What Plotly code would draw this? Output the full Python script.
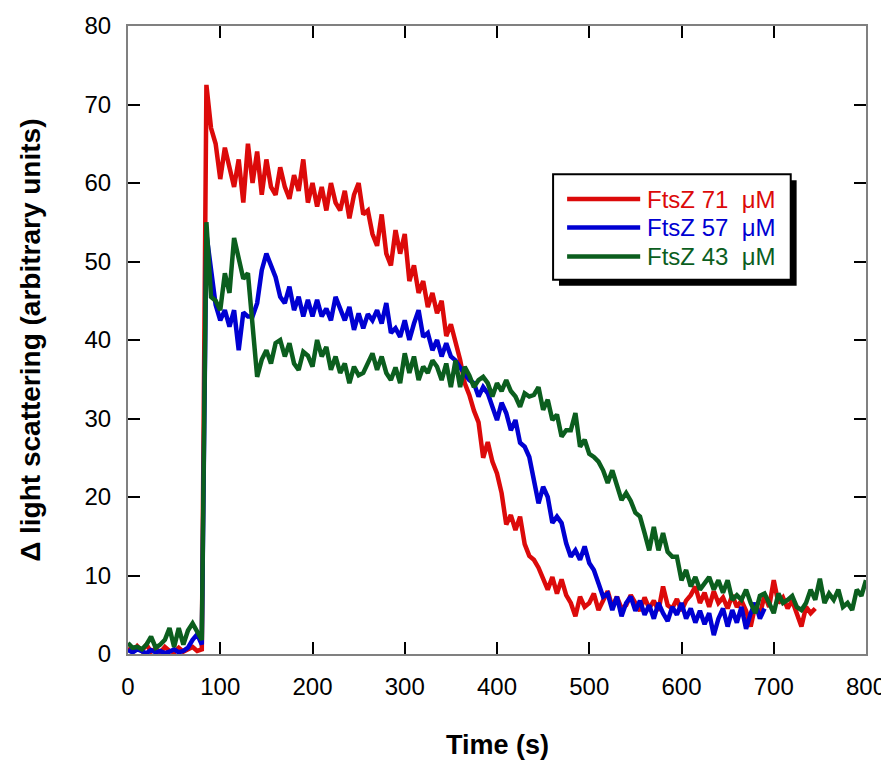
import plotly.graph_objects as go

# light scattering traces, one reading every 5 s starting at t = 0
STEP_S = 5

ftsz71 = [
    0.8, 0.3, 1.0, 0.4, 1.2, 0.3, 0.7, 0.2, 0.9, 0.4, 0.2, 0.8, 0.3, 0.6, 0.9, 0.4, 0.6,
    72.5, 67.0, 65.0, 60.5, 64.5, 62.0, 59.5, 63.0, 57.5, 65.0, 60.0, 64.0, 58.5, 63.0,
    59.5, 58.5, 62.0, 59.5, 58.0, 61.0, 59.0, 63.0, 57.5, 60.0, 57.0, 59.5, 56.5, 60.0,
    57.5, 56.5, 59.0, 55.5, 58.5, 60.0, 56.0, 56.5, 53.5, 52.0, 56.0, 51.0, 49.5, 54.0,
    51.0, 53.5, 47.5, 49.5, 46.0, 47.5, 44.2, 46.0, 43.4, 45.0, 40.5, 42.0, 40.0, 37.5,
    34.5, 33.0, 31.0, 29.5, 25.0, 27.0, 24.5, 23.0, 20.5, 16.5, 17.7, 15.8, 17.5, 14.0,
    12.5, 12.0, 11.0, 9.5, 8.2, 9.8, 7.7, 9.5, 7.5, 6.5, 4.8, 7.3, 6.0, 6.5, 7.7, 5.6,
    6.8, 8.0, 6.0, 7.3, 5.8, 6.2, 7.5, 6.5, 5.5, 7.2, 5.8, 6.8, 5.5, 8.6, 6.2, 5.8, 7.0,
    5.5, 6.8, 7.5, 8.6, 6.5, 7.8, 6.0, 8.0, 6.5, 7.2, 5.8, 7.5, 6.0, 6.8, 5.5, 3.5, 6.2,
    5.0, 7.5, 6.0, 9.4, 6.5, 7.2, 5.8, 6.8, 5.2, 3.5, 6.0, 5.2, 5.8,
]

ftsz57 = [
    0.5, 0.2, 0.6, 0.3, 0.1, 0.5, 0.2, 0.4, 0.1, 0.3, 0.6, 0.2, 0.4, 0.8, 1.8, 2.5, 1.2,
    53.5, 49.0, 44.5, 42.5, 43.8, 41.7, 43.8, 38.7, 43.5, 43.0, 43.0, 44.7, 48.9, 51.0,
    49.3, 48.0, 45.5, 44.7, 46.8, 43.8, 45.5, 43.0, 45.1, 43.0, 45.1, 43.0, 44.0, 42.5,
    45.5, 43.8, 42.5, 44.2, 41.3, 43.4, 41.5, 43.3, 42.5, 43.8, 42.1, 44.7, 40.9, 41.5,
    40.4, 42.5, 40.0, 42.1, 43.8, 40.4, 40.9, 38.7, 40.0, 37.9, 39.6, 37.9, 37.4, 36.5,
    35.8, 34.9, 34.5, 32.8, 34.0, 33.2, 31.5, 29.8, 32.0, 30.7, 28.5, 29.8, 26.9, 26.4,
    25.1, 22.4, 19.2, 21.3, 20.0, 16.7, 17.5, 16.7, 14.1, 12.4, 13.2, 12.0, 13.7, 11.6,
    10.7, 9.0, 7.3, 7.7, 5.6, 7.3, 4.8, 6.5, 7.3, 5.5, 6.8, 5.0, 6.2, 4.5, 6.5, 5.2, 4.2,
    6.0, 5.0, 6.5, 4.5, 5.8, 4.0, 5.5, 3.8, 5.2, 2.4, 4.5, 5.8, 3.5, 5.6, 4.0, 6.0, 3.2,
    5.2, 6.5, 4.5, 5.8,
]

ftsz43 = [
    1.4, 0.8, 0.9, 0.6, 1.2, 2.2, 0.8, 1.2, 1.8, 3.3, 0.9, 3.3, 1.2, 3.0, 3.9, 2.8, 1.8,
    55.0, 45.5, 45.0, 43.8, 48.5, 46.0, 53.0, 50.5, 47.8, 48.5, 42.0, 35.3, 37.5, 38.7,
    37.0, 39.6, 40.0, 37.9, 39.6, 37.0, 36.2, 38.5, 38.0, 36.6, 40.0, 37.9, 39.1, 36.2,
    37.9, 35.8, 37.0, 34.5, 36.6, 35.5, 35.8, 37.0, 38.3, 36.2, 37.9, 35.8, 34.9, 36.5,
    34.5, 38.3, 35.8, 37.9, 34.9, 36.6, 35.8, 37.4, 36.6, 34.9, 37.0, 34.0, 37.4, 34.0,
    36.6, 35.5, 34.0, 34.9, 35.3, 34.5, 32.8, 34.5, 33.5, 34.9, 33.5, 32.8, 31.5, 33.2,
    32.8, 33.0, 34.0, 31.1, 32.4, 29.8, 30.5, 27.7, 28.5, 28.5, 30.7, 26.4, 27.3, 25.5,
    25.1, 24.5, 23.4, 21.8, 23.4, 21.5, 19.6, 20.5, 19.5, 18.0, 17.5, 15.4, 13.2, 16.2,
    13.2, 15.4, 13.0, 12.4, 12.4, 9.4, 10.7, 8.6, 9.8, 8.2, 9.0, 9.8, 8.2, 9.4, 7.8, 9.4,
    6.9, 7.5, 6.9, 8.2, 6.5, 5.2, 7.4, 7.7, 6.5, 5.2, 7.7, 6.5, 6.9, 7.4, 6.0, 5.6, 6.5,
    8.2, 6.9, 9.6, 6.5, 7.7, 6.9, 8.2, 6.0, 6.5, 5.6, 8.2, 7.4, 9.4,
]

series = [
    ("FtsZ 71\u00a0\u00a0μM", ftsz71, "#dc0a0a"),
    ("FtsZ 57\u00a0\u00a0μM", ftsz57, "#0000d2"),
    ("FtsZ 43\u00a0\u00a0μM", ftsz43, "#0b5e1e"),
]

FONT = "Liberation Sans, Arial, sans-serif"

fig = go.Figure()
for name, vals, color in series:
    t = [STEP_S * i for i in range(len(vals))]
    fig.add_trace(go.Scatter(x=t, y=vals, mode="lines", name=name,
                             line=dict(color=color, width=4.5), showlegend=False))

# hand-drawn legend box with drop shadow (paper coords)
bx0, bx1, by0, by1 = 0.576, 0.898, 0.596, 0.764
sh = 0.008
fig.add_shape(type="rect", xref="paper", yref="paper", x0=bx0 + sh, x1=bx1 + sh,
              y0=by0 - sh * 1.18, y1=by1 - sh * 1.18, fillcolor="black",
              line=dict(width=0), layer="above")
fig.add_shape(type="rect", xref="paper", yref="paper", x0=bx0, x1=bx1, y0=by0, y1=by1,
              fillcolor="white", line=dict(color="black", width=2), layer="above")
row_y = [0.7245, 0.679, 0.633]
for (name, _, color), ry in zip(series, row_y):
    fig.add_shape(type="line", xref="paper", yref="paper", x0=0.595, x1=0.694,
                  y0=ry, y1=ry, line=dict(color=color, width=4.5), layer="above")
    fig.add_annotation(xref="paper", yref="paper", x=0.701, y=ry, text=name,
                       showarrow=False, xanchor="left", yanchor="middle",
                       font=dict(family=FONT, size=24, color=color))

axis_common = dict(
    showline=True, linecolor="#808080", linewidth=2, mirror="ticks",
    ticks="inside", ticklen=12, tickwidth=1.5, tickcolor="black",
    showgrid=False, zeroline=False, automargin=False,
    tickfont=dict(family=FONT, size=24, color="black"),
)

fig.update_xaxes(range=[0, 800], dtick=100, ticklabelstandoff=10, **axis_common)
fig.update_yaxes(range=[0, 80], dtick=10, ticklabelstandoff=10, **axis_common)

# axis titles as annotations so they sit where the reference has them
fig.add_annotation(xref="paper", yref="paper", x=0.5, y=-0.145, yanchor="middle",
                   text="<b>Time (s)</b>", showarrow=False,
                   font=dict(family=FONT, size=27, color="black"))
fig.add_annotation(xref="paper", yref="paper", x=-0.133, y=0.5, xanchor="center",
                   text="<b>Δ light scattering (arbitrary units)</b>", showarrow=False,
                   textangle=-90, font=dict(family=FONT, size=28, color="black"))

# the page body keeps its default 8 px margin, so the figure is 8 px smaller
fig.update_layout(
    width=881, height=753,
    margin=dict(l=120, r=23, t=18, b=107),
    plot_bgcolor="white", paper_bgcolor="white",
    font=dict(family=FONT),
)

fig.write_html("out.html")
